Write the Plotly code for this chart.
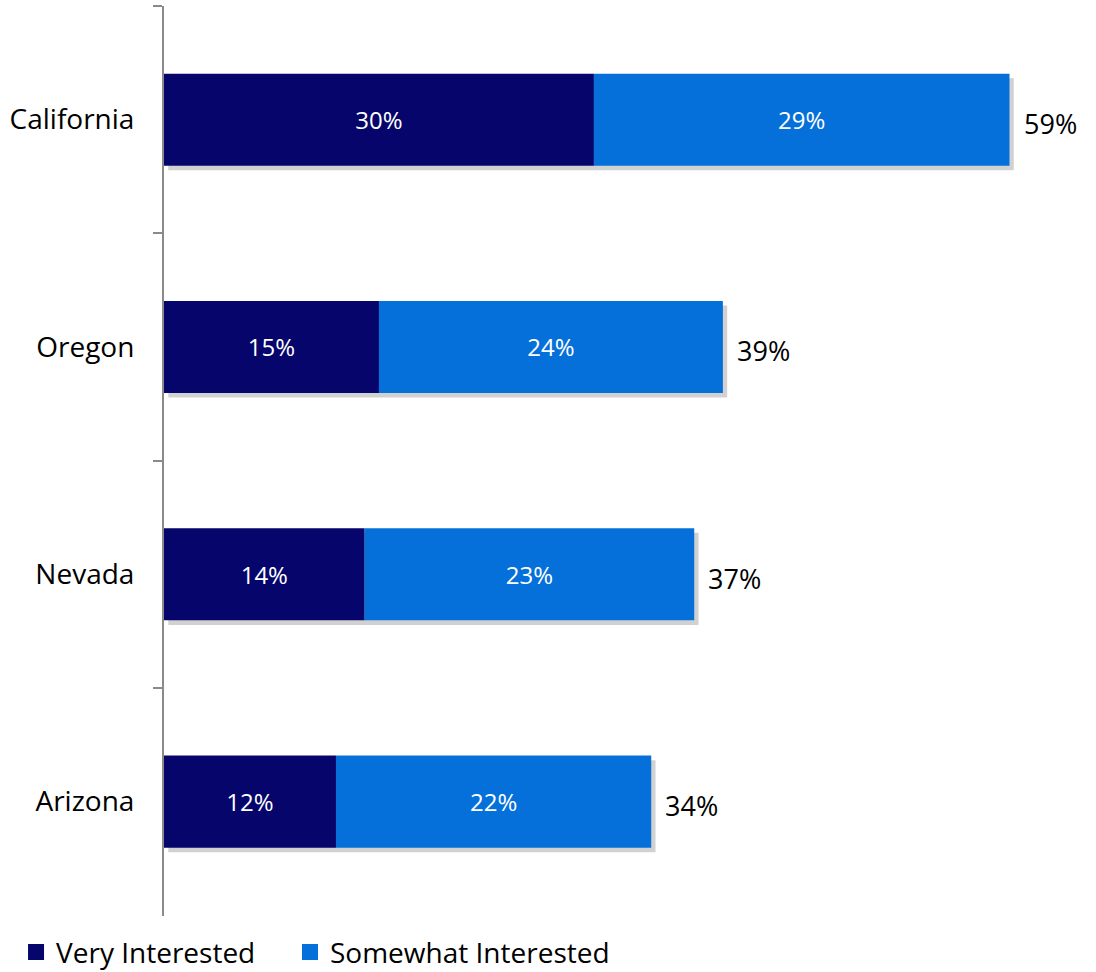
import plotly.graph_objects as go

states = ["California", "Oregon", "Nevada", "Arizona"]
very = [30, 15, 14, 12]
somewhat = [29, 24, 23, 22]
totals = [59, 39, 37, 34]

NAVY = "#05056B"
BLUE = "#0570DA"
FONT = "Open Sans"
BAR_W = 0.405

fig = go.Figure()

# soft drop shadow behind each full bar
fig.add_trace(go.Bar(
    y=states, x=totals, base=0.3, orientation="h",
    width=BAR_W, offset=-BAR_W / 2 + 0.02,
    marker=dict(color="rgba(0,0,0,0.18)", line=dict(width=0)),
    showlegend=False, hoverinfo="skip",
))
fig.add_trace(go.Bar(
    y=states, x=very, base=0, orientation="h", name="Very Interested",
    width=BAR_W, offset=-BAR_W / 2,
    marker=dict(color=NAVY, line=dict(width=0)),
    texttemplate="%{x}%", textposition="inside", insidetextanchor="middle",
    textfont=dict(color="white", size=24, family=FONT),
    showlegend=False,
))
fig.add_trace(go.Bar(
    y=states, x=somewhat, base=very, orientation="h", name="Somewhat Interested",
    width=BAR_W, offset=-BAR_W / 2,
    marker=dict(color=BLUE, line=dict(width=0)),
    texttemplate="%{x}%", textposition="inside", insidetextanchor="middle",
    textfont=dict(color="white", size=24, family=FONT),
    showlegend=False,
))

# legend entries with square swatches, each in its own legend box
for name, col, lg in [("Very Interested", NAVY, "legend"),
                      ("Somewhat Interested", BLUE, "legend2")]:
    fig.add_trace(go.Scatter(
        x=[None], y=[None], mode="markers", name=name, legend=lg,
        marker=dict(symbol="square", size=19, color=col),
    ))

for s, t in zip(states, totals):
    fig.add_annotation(
        x=t, y=s, text=f"{t}%", showarrow=False,
        xanchor="left", xshift=12, yshift=-4,
        font=dict(size=27, color="black", family=FONT),
    )

legend_style = dict(
    orientation="h", y=-0.04, yanchor="middle", xanchor="left",
    font=dict(size=28, family=FONT, color="black"),
    itemwidth=30, bgcolor="rgba(0,0,0,0)",
)

fig.update_layout(
    width=1096, height=972,
    margin=dict(l=164, r=17, t=6, b=56, autoexpand=False),
    barmode="overlay",
    plot_bgcolor="white", paper_bgcolor="white",
    font=dict(family=FONT, color="black"),
    xaxis=dict(range=[0, 63.85], visible=False, fixedrange=True),
    yaxis=dict(
        categoryorder="array", categoryarray=states, range=[3.503, -0.5],
        showline=True, linecolor="#8a8a8a", linewidth=2,
        ticks="outside", tickson="boundaries", ticklen=9, tickcolor="#8a8a8a", tickwidth=2,
        tickfont=dict(size=28, family=FONT, color="black"),
        ticklabelstandoff=22, showgrid=False, zeroline=False, automargin=False,
    ),
    legend=dict(x=-0.1617, **legend_style),
    legend2=dict(x=0.1377, **legend_style),
    showlegend=True,
)

fig.write_html(
    "out.html",
    config={"displayModeBar": False},
    post_script="document.body.style.margin='0';",
)
